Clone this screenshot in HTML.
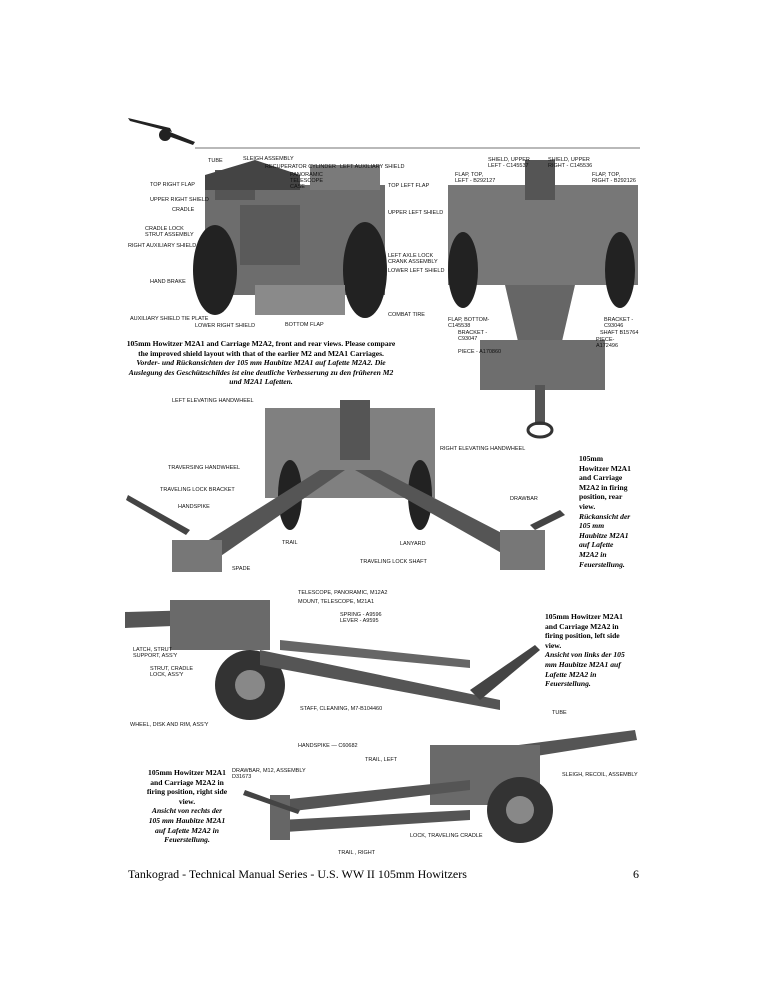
<!DOCTYPE html>
<html><head><meta charset="utf-8"><style>
html,body{margin:0;padding:0;background:#fff;}
body{width:771px;height:1000px;position:relative;overflow:hidden;font-family:"Liberation Serif",serif;}
.l{position:absolute;font-family:"Liberation Sans",sans-serif;font-size:5.5px;color:#111;white-space:nowrap;}
.c{position:absolute;font-size:7.6px;line-height:9.6px;color:#000;font-weight:bold;}
.c i{font-weight:bold;}
svg{position:absolute;left:0;top:0;}
</style></head><body>
<svg width="771" height="1000">
<line x1="195" y1="148" x2="640" y2="148" stroke="#444" stroke-width="0.8"/>
<g fill="#222"><polygon points="128,118 170,128 172,132 130,121"/><circle cx="165" cy="135" r="6"/><polygon points="170,132 195,142 193,145 168,136"/></g>
<g>
<rect x="205" y="185" width="180" height="110" fill="#6d6d6d"/>
<rect x="215" y="170" width="40" height="30" fill="#555"/>
<polygon points="205,175 255,160 300,175 300,190 205,190" fill="#444"/>
<rect x="310" y="165" width="70" height="25" fill="#7a7a7a"/>
<rect x="240" y="205" width="60" height="60" fill="#5a5a5a"/>
<ellipse cx="215" cy="270" rx="22" ry="45" fill="#222"/>
<ellipse cx="365" cy="270" rx="22" ry="48" fill="#222"/>
<rect x="255" y="285" width="90" height="30" fill="#8a8a8a"/>
</g>
<g>
<rect x="448" y="185" width="190" height="100" fill="#777"/>
<rect x="525" y="160" width="30" height="40" fill="#555"/>
<ellipse cx="463" cy="270" rx="15" ry="38" fill="#222"/>
<ellipse cx="620" cy="270" rx="15" ry="38" fill="#222"/>
<polygon points="505,285 575,285 560,350 520,350" fill="#666"/>
<rect x="480" y="340" width="125" height="50" fill="#6e6e6e"/>
<rect x="535" y="385" width="10" height="40" fill="#555"/>
<ellipse cx="540" cy="430" rx="12" ry="7" fill="none" stroke="#333" stroke-width="3"/>
</g>
<g>
<rect x="265" y="408" width="170" height="90" fill="#808080"/>
<rect x="340" y="400" width="30" height="60" fill="#555"/>
<ellipse cx="290" cy="495" rx="12" ry="35" fill="#222"/>
<ellipse cx="420" cy="495" rx="12" ry="35" fill="#222"/>
<polygon points="320,470 345,470 215,560 185,555" fill="#555"/>
<polygon points="355,470 380,470 525,545 505,555" fill="#555"/>
<rect x="172" y="540" width="50" height="32" fill="#777"/>
<rect x="500" y="530" width="45" height="40" fill="#777"/>
<polygon points="128,495 190,530 186,535 126,500" fill="#444"/>
<polygon points="530,525 560,510 565,515 535,530" fill="#444"/>
</g>
<g>
<polygon points="125,612 270,608 270,622 125,628" fill="#555"/>
<rect x="170" y="600" width="100" height="50" fill="#6a6a6a"/>
<circle cx="250" cy="685" r="35" fill="#333"/><circle cx="250" cy="685" r="15" fill="#888"/>
<polygon points="260,650 500,700 500,710 260,665" fill="#555"/>
<polygon points="280,640 470,660 470,668 280,650" fill="#666"/>
<polygon points="470,690 535,645 540,650 480,700" fill="#444"/>
</g>
<g>
<polygon points="480,750 635,730 637,740 480,765" fill="#555"/>
<rect x="430" y="745" width="110" height="60" fill="#6a6a6a"/>
<circle cx="520" cy="810" r="33" fill="#333"/><circle cx="520" cy="810" r="14" fill="#888"/>
<polygon points="280,800 470,780 470,790 285,812" fill="#555"/>
<polygon points="280,820 470,810 470,820 285,832" fill="#555"/>
<rect x="270" y="795" width="20" height="45" fill="#666"/>
<polygon points="245,790 300,810 298,814 243,795" fill="#444"/>
</g>
</svg>

<div class="l" style="left:208px;top:158px">TUBE</div>
<div class="l" style="left:243px;top:156px">SLEIGH ASSEMBLY</div>
<div class="l" style="left:265px;top:164px">RECUPERATOR CYLINDER</div>
<div class="l" style="left:340px;top:164px">LEFT AUXILIARY SHIELD</div>
<div class="l" style="left:290px;top:172px">PANORAMIC<br>TELESCOPE<br>CASE</div>
<div class="l" style="left:150px;top:182px">TOP RIGHT FLAP</div>
<div class="l" style="left:388px;top:183px">TOP LEFT FLAP</div>
<div class="l" style="left:150px;top:197px">UPPER RIGHT SHIELD</div>
<div class="l" style="left:172px;top:207px">CRADLE</div>
<div class="l" style="left:388px;top:210px">UPPER LEFT SHIELD</div>
<div class="l" style="left:145px;top:226px">CRADLE LOCK<br>STRUT ASSEMBLY</div>
<div class="l" style="left:128px;top:243px">RIGHT AUXILIARY SHIELD</div>
<div class="l" style="left:388px;top:253px">LEFT AXLE LOCK<br>CRANK ASSEMBLY</div>
<div class="l" style="left:388px;top:268px">LOWER LEFT SHIELD</div>
<div class="l" style="left:150px;top:279px">HAND BRAKE</div>
<div class="l" style="left:388px;top:312px">COMBAT TIRE</div>
<div class="l" style="left:130px;top:316px">AUXILIARY SHIELD TIE PLATE</div>
<div class="l" style="left:195px;top:323px">LOWER RIGHT SHIELD</div>
<div class="l" style="left:285px;top:322px">BOTTOM FLAP</div>

<div class="l" style="left:488px;top:157px">SHIELD, UPPER<br>LEFT - C145537</div>
<div class="l" style="left:548px;top:157px">SHIELD, UPPER<br>RIGHT - C145536</div>
<div class="l" style="left:455px;top:172px">FLAP, TOP,<br>LEFT - B292127</div>
<div class="l" style="left:592px;top:172px">FLAP, TOP,<br>RIGHT - B292126</div>
<div class="l" style="left:448px;top:317px">FLAP, BOTTOM-<br>C145538</div>
<div class="l" style="left:458px;top:330px">BRACKET -<br>C93047</div>
<div class="l" style="left:458px;top:349px">PIECE - A170860</div>
<div class="l" style="left:604px;top:317px">BRACKET -<br>C93046</div>
<div class="l" style="left:600px;top:330px">SHAFT B15764</div>
<div class="l" style="left:596px;top:337px">PIECE-<br>A172496</div>

<div class="c" style="left:122px;top:339px;width:278px;text-align:center">105mm Howitzer M2A1 and Carriage M2A2, front and rear views. Please compare the improved shield layout with that of the earlier M2 and M2A1 Carriages.<br><i>Vorder- und Rückansichten der 105 mm Haubitze M2A1 auf Lafette M2A2. Die Auslegung des Geschützschildes ist eine deutliche Verbesserung zu den früheren M2 und M2A1 Lafetten.</i></div>

<div class="l" style="left:172px;top:398px">LEFT ELEVATING HANDWHEEL</div>
<div class="l" style="left:440px;top:446px">RIGHT ELEVATING HANDWHEEL</div>
<div class="l" style="left:168px;top:465px">TRAVERSING HANDWHEEL</div>
<div class="l" style="left:160px;top:487px">TRAVELING LOCK BRACKET</div>
<div class="l" style="left:178px;top:504px">HANDSPIKE</div>
<div class="l" style="left:510px;top:496px">DRAWBAR</div>
<div class="l" style="left:282px;top:540px">TRAIL</div>
<div class="l" style="left:400px;top:541px">LANYARD</div>
<div class="l" style="left:360px;top:559px">TRAVELING LOCK SHAFT</div>
<div class="l" style="left:232px;top:566px">SPADE</div>
<div class="c" style="left:579px;top:454px;width:52px">105mm Howitzer M2A1 and Carriage M2A2 in firing position, rear view.<br><i>Rückansicht der 105 mm Haubitze M2A1 auf Lafette M2A2 in Feuerstellung.</i></div>

<div class="l" style="left:298px;top:590px">TELESCOPE, PANORAMIC, M12A2</div>
<div class="l" style="left:298px;top:599px">MOUNT, TELESCOPE, M21A1</div>
<div class="l" style="left:340px;top:612px">SPRING - A9596<br>LEVER - A9595</div>
<div class="l" style="left:133px;top:647px">LATCH, STRUT<br>SUPPORT, ASS'Y</div>
<div class="l" style="left:150px;top:666px">STRUT, CRADLE<br>LOCK, ASS'Y</div>
<div class="l" style="left:300px;top:706px">STAFF, CLEANING, M7-B104460</div>
<div class="l" style="left:130px;top:722px">WHEEL, DISK AND RIM, ASS'Y</div>
<div class="c" style="left:545px;top:612px;width:82px">105mm Howitzer M2A1 and Carriage M2A2 in firing position, left side view.<br><i>Ansicht von links der 105 mm Haubitze M2A1 auf Lafette M2A2 in Feuerstellung.</i></div>

<div class="l" style="left:552px;top:710px">TUBE</div>
<div class="l" style="left:298px;top:743px">HANDSPIKE — C60682</div>
<div class="l" style="left:365px;top:757px">TRAIL, LEFT</div>
<div class="l" style="left:232px;top:768px">DRAWBAR, M12, ASSEMBLY<br>D31673</div>
<div class="l" style="left:562px;top:772px">SLEIGH, RECOIL, ASSEMBLY</div>
<div class="l" style="left:410px;top:833px">LOCK, TRAVELING CRADLE</div>
<div class="l" style="left:338px;top:850px">TRAIL , RIGHT</div>
<div class="c" style="left:146px;top:768px;width:82px;text-align:center">105mm Howitzer M2A1 and Carriage M2A2 in firing position, right side view.<br><i>Ansicht von rechts der 105 mm Haubitze M2A1 auf Lafette M2A2 in Feuerstellung.</i></div>

<div style="position:absolute;left:128px;top:867px;font-size:12px">Tankograd - Technical Manual Series - U.S. WW II 105mm Howitzers</div>
<div style="position:absolute;left:633px;top:867px;font-size:12px">6</div>
</body></html>
